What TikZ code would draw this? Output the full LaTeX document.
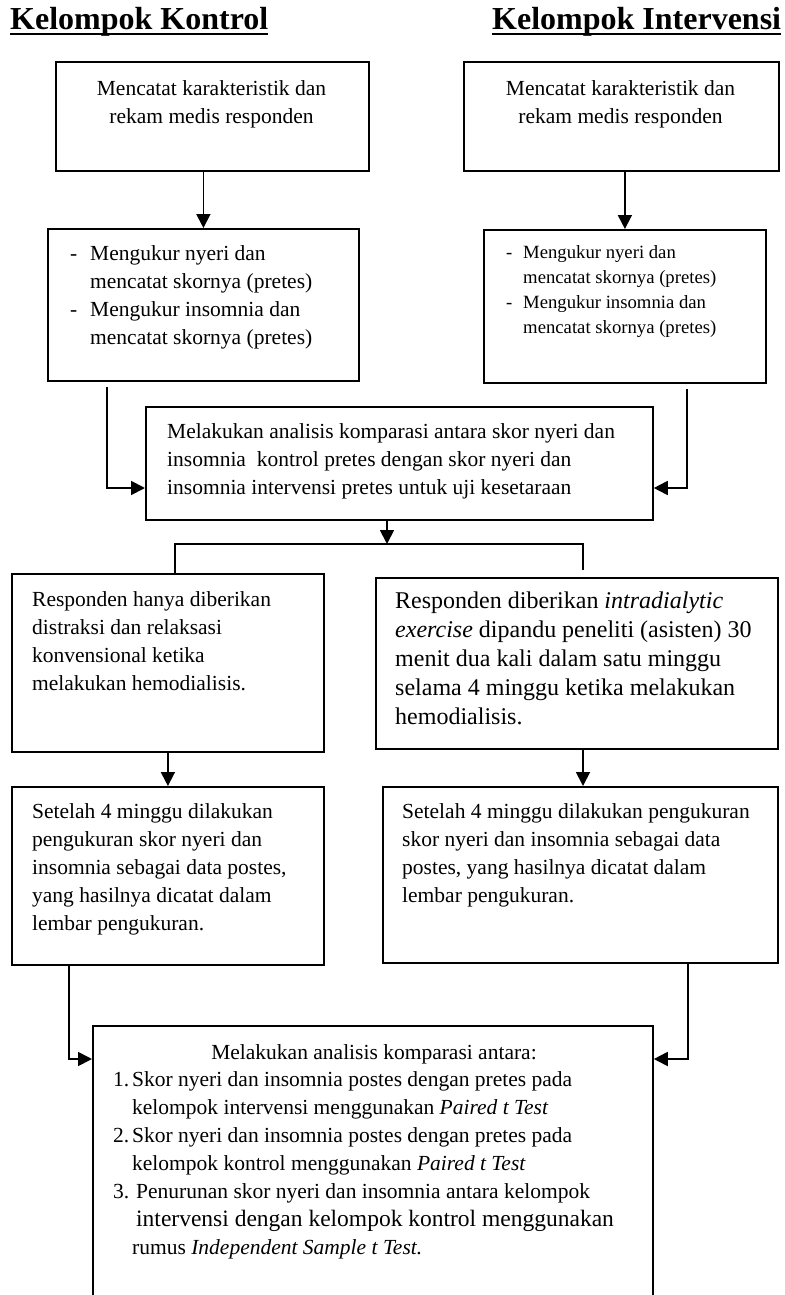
\documentclass[tikz,border=0pt]{standalone}
\usepackage{fontspec}
\setmainfont{Liberation Serif}
\usetikzlibrary{arrows.meta}

\newcommand{\tanda}[2]{\makebox[#1][l]{#2}}

\begin{document}
\begin{tikzpicture}[
        x=1pt, y=-1pt,
        kotak/.style={draw, line width=1.8pt, anchor=north west, inner sep=0pt},
        teks/.style={font=\fontsize{21.5}{28}\selectfont, inner sep=0pt, align=left, anchor=base west},
        teksbesar/.style={teks, font=\fontsize{24}{29}\selectfont},
        tekskecil/.style={teks, font=\fontsize{18.7}{25}\selectfont},
        judul/.style={font=\fontsize{32}{36}\selectfont\bfseries, inner sep=0pt, anchor=base west},
        garis/.style={line width=1.8pt},
        panah/.style={garis, -{Triangle[length=14pt, width=14pt]}}
    ]
    \useasboundingbox (0,0) rectangle (784,1295);
    \clip (0,0) rectangle (784,1295);

    % Judul kelompok
    \node[judul] (judulKontrol) at (10,30) {Kelompok Kontrol};
    \node[judul] (judulIntervensi) at (492,30) {Kelompok Intervensi};
    \draw[line width=2pt] ([yshift=-4pt]judulKontrol.base west) -- ([yshift=-4pt]judulKontrol.base east);
    \draw[line width=2pt] ([yshift=-4pt]judulIntervensi.base west) -- ([yshift=-4pt]judulIntervensi.base east);

    % Kotak-kotak
    \node[kotak, minimum width=313pt, minimum height=109pt] (kontrol1) at (55,61) {};
    \node[kotak, minimum width=315pt, minimum height=109pt] (intervensi1) at (463,61) {};
    \node[kotak, minimum width=311pt, minimum height=152pt] (kontrol2) at (47,228) {};
    \node[kotak, minimum width=282pt, minimum height=153pt] (intervensi2) at (483,229) {};
    \node[kotak, minimum width=507pt, minimum height=113pt] (komparasi1) at (145,406) {};
    \node[kotak, minimum width=312pt, minimum height=178pt] (kontrol3) at (11,573) {};
    \node[kotak, minimum width=402pt, minimum height=171pt] (intervensi3) at (375,577) {};
    \node[kotak, minimum width=312pt, minimum height=178pt] (kontrol4) at (11,786) {};
    \node[kotak, minimum width=395pt, minimum height=176pt] (intervensi4) at (382,786) {};
    \node[kotak, minimum width=560pt, minimum height=300pt] (komparasi2) at (92,1025) {};

    % Isi kotak (titik acuan = garis dasar baris terakhir)
    \node[teks, align=center, anchor=base] (kontrol1teks) at (211.5,124)
        {Mencatat karakteristik dan\\rekam medis responden};
    \node[teks, align=center, anchor=base] (intervensi1teks) at (620.5,124)
        {Mencatat karakteristik dan\\rekam medis responden};
    \node[teks] (kontrol2teks) at (70,344)
        {\tanda{20pt}{-}Mengukur nyeri dan\\
         \hspace*{20pt}mencatat skornya (pretes)\\
         \tanda{20pt}{-}Mengukur insomnia dan\\
         \hspace*{20pt}mencatat skornya (pretes)};
    \node[tekskecil] (intervensi2teks) at (506,333.5)
        {\tanda{17pt}{-}Mengukur nyeri dan\\
         \hspace*{17pt}mencatat skornya (pretes)\\
         \tanda{17pt}{-}Mengukur insomnia dan\\
         \hspace*{17pt}mencatat skornya (pretes)};
    \node[teks] (komparasi1teks) at (167,494.5)
        {Melakukan analisis komparasi antara skor nyeri dan\\
         insomnia\ \ kontrol pretes dengan skor nyeri dan\\
         insomnia intervensi pretes untuk uji kesetaraan};
    \node[teks] (kontrol3teks) at (32,690.5)
        {Responden hanya diberikan\\
         distraksi dan relaksasi\\
         konvensional ketika\\
         melakukan hemodialisis.};
    \node[teksbesar] (intervensi3teks) at (395,724)
        {Responden diberikan \textit{intradialytic}\\
         \textit{exercise} dipandu peneliti (asisten) 30\\
         menit dua kali dalam satu minggu\\
         selama 4 minggu ketika melakukan\\
         hemodialisis.};
    \node[teks] (kontrol4teks) at (32,930)
        {Setelah 4 minggu dilakukan\\
         pengukuran skor nyeri dan\\
         insomnia sebagai data postes,\\
         yang hasilnya dicatat dalam\\
         lembar pengukuran.};
    \node[teks] (intervensi4teks) at (402,902.5)
        {Setelah 4 minggu dilakukan pengukuran\\
         skor nyeri dan insomnia sebagai data\\
         postes, yang hasilnya dicatat dalam\\
         lembar pengukuran.};
    \node[teks, anchor=base] (komparasi2judul) at (374,1059)
        {Melakukan analisis komparasi antara:};
    \node[teks] (komparasi2teks) at (113,1254)
        {\tanda{19pt}{1.}Skor nyeri dan insomnia postes dengan pretes pada\\
         \hspace*{19pt}kelompok intervensi menggunakan \textit{Paired t Test}\\
         \tanda{19pt}{2.}Skor nyeri dan insomnia postes dengan pretes pada\\
         \hspace*{19pt}kelompok kontrol menggunakan \textit{Paired t Test}\\
         \tanda{23pt}{3.}Penurunan skor nyeri dan insomnia antara kelompok\\
         \hspace*{23pt}{\fontsize{23.5}{28}\selectfont intervensi dengan kelompok kontrol menggunakan}\\
         \hspace*{19pt}rumus \textit{Independent Sample t Test.}};

    % Penghubung
    \draw[panah] (kontrol1.south -| kontrol2.north) -- (kontrol2.north);
    \draw[panah] (intervensi1.south -| intervensi2.north) -- (intervensi2.north);
    \draw[panah] ([xshift=60pt, yshift=-5pt]kontrol2.south west) |- ([yshift=-82pt]komparasi1.north west);
    \draw[panah] ([xshift=-80pt, yshift=-5pt]intervensi2.south east) |- ([yshift=-82pt]komparasi1.north east);

    \coordinate (cabang) at (387,544);
    \coordinate (cabangKiri) at (175,544);
    \coordinate (cabangKanan) at (583,544);
    \draw[panah] (komparasi1.south -| cabang) -- (cabang);
    \draw[garis] (kontrol3.north -| cabangKiri) -- (cabangKiri) -- (cabangKanan)
        -- ([yshift=7pt]intervensi3.north -| cabangKanan);

    \draw[panah] (kontrol3.south) -- (kontrol4.north);
    \draw[panah] (intervensi3.south -| cabangKanan) -- (intervensi4.north -| cabangKanan);

    \draw[panah] ([xshift=58pt]kontrol4.south west) |- ([yshift=-34pt]komparasi2.north west);
    \draw[panah] ([xshift=-91pt]intervensi4.south east) |- ([yshift=-34pt]komparasi2.north east);

\end{tikzpicture}
\end{document}
